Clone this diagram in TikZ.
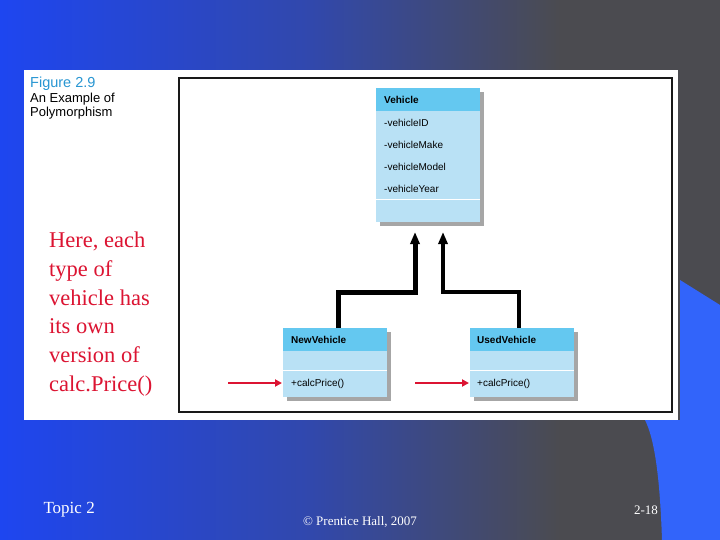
\documentclass[tikz,border=0pt]{standalone}
\usepackage{fontspec}
\setmainfont{Liberation Serif}
\newfontfamily\hv{Liberation Sans}
\usetikzlibrary{arrows.meta}
\definecolor{bgblue}{RGB}{30,70,240}
\definecolor{bggray}{RGB}{75,75,80}
\definecolor{wedge}{RGB}{50,100,250}
\definecolor{hdr}{RGB}{100,200,240}
\definecolor{body}{RGB}{185,225,245}
\definecolor{figblue}{RGB}{40,150,210}
\definecolor{redtxt}{RGB}{220,20,50}
\tikzset{
 cls/.style={fill=body,draw=none},
 hdrbox/.style={fill=hdr,draw=none},
 lbl/.style={anchor=west,font=\hv\fontsize{10}{11}\selectfont,inner sep=0pt},
 hlbl/.style={anchor=west,font=\hv\bfseries\fontsize{10}{11}\selectfont,inner sep=0pt},
 inh/.style={line width=#1,-{Triangle[length=12pt,width=9pt]}},
 redarr/.style={redtxt,line width=2.5pt,-{Triangle[length=7pt,width=7pt]}},
 foot/.style={white,font=\fontsize{17}{19}\selectfont}
}
\begin{document}
\begin{tikzpicture}[x=1pt,y=-1pt]
\useasboundingbox (0,0) rectangle (720,540);
\shade[left color=bgblue,right color=bggray] (0,0) rectangle (720,540);
\fill[bggray] (560,0) rectangle (720,540);
\shade[left color=bgblue!60!bggray,right color=bggray] (300,0) rectangle (560,540);
\fill[wedge] (680,280) -- (720,305) -- (720,540) -- (662,540) .. controls (660,480) and (655,440) .. (645,420) -- (680,420) -- cycle;
% panel
\fill[white] (24,70) rectangle (678,420);
\draw[line width=1.8pt,black!90] (179,78) rectangle (672,412);
\node[anchor=north west,inner sep=0pt,align=left,font=\hv\fontsize{13}{14.5}\selectfont] (cap) at (30,77)
 {{\color{figblue}\fontsize{14.5}{15}\selectfont Figure 2.9}\\An Example of\\Polymorphism};
\node[anchor=north west,inner sep=0pt,align=left,redtxt,font=\fontsize{22.5}{28.7}\selectfont] (txt) at (49,232)
 {Here, each\\type of\\vehicle has\\its own\\version of\\calc.Price()};
% Vehicle
\fill[black!35] (380,92) rectangle (484,226);
\fill[cls] (376,88) rectangle (480,222);
\fill[hdrbox] (376,88) rectangle (480,111);
\draw[white] (376,199) -- (480,199);
\node[hlbl] (vh) at (384,100) {Vehicle};
\node[lbl] (v1) at (384,123) {-vehicleID};
\node[lbl] (v2) at (384,145) {-vehicleMake};
\node[lbl] (v3) at (384,167) {-vehicleModel};
\node[lbl] (v4) at (384,189) {-vehicleYear};
\coordinate (va) at (415,232);
\coordinate (vb) at (443,232);
% NewVehicle
\fill[black!35] (287,332) rectangle (391,401);
\fill[cls] (283,328) rectangle (387,397);
\fill[hdrbox] (283,328) rectangle (387,351);
\draw[white] (283,370) -- (387,370);
\node[hlbl] (nh) at (291,340) {NewVehicle};
\node[lbl] (nm) at (291,384) {+calcPrice()};
% UsedVehicle
\fill[black!35] (474,332) rectangle (578,401);
\fill[cls] (470,328) rectangle (574,397);
\fill[hdrbox] (470,328) rectangle (574,351);
\draw[white] (470,370) -- (574,370);
\node[hlbl] (uh) at (477,340) {UsedVehicle};
\node[lbl] (um) at (477,384) {+calcPrice()};
\coordinate (n) at (338,328);
\coordinate (u) at (519,328);
\draw[inh=5pt] (n) |- (415,292) -- (va);
\draw[inh=3.5pt] (u) |- (443,292) -- (vb);
\coordinate (r1) at (228,383);
\coordinate (r2) at (415,383);
\draw[redarr] (r1) -- (282,383);
\draw[redarr] (r2) -- (469,383);
% footer
\node[foot,anchor=west] (t2) at (40,510) {Topic 2};
\node[foot,font=\fontsize{13}{15}\selectfont] (cp) at (360,522) {© Prentice Hall, 2007};
\node[foot,font=\fontsize{13}{15}\selectfont] (pg) at (646,510) {2-18};
\end{tikzpicture}
\end{document}
